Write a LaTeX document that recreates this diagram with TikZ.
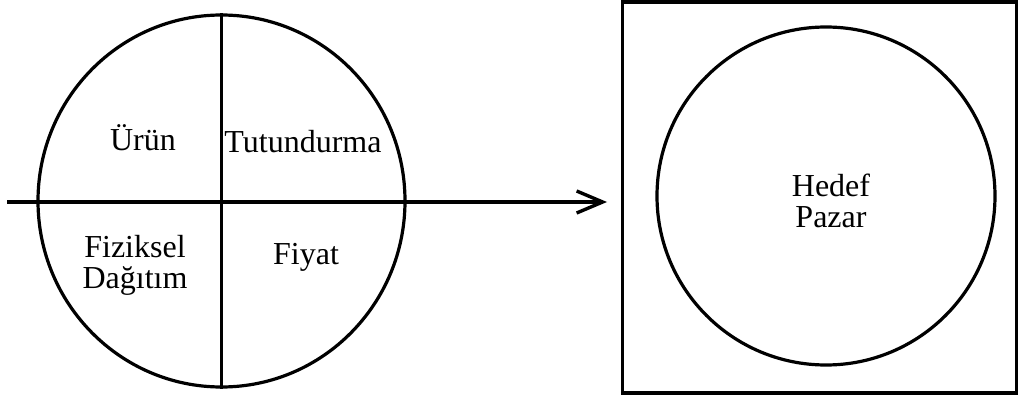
\documentclass[tikz,border=0pt]{standalone}
\usepackage{fontspec}
\setmainfont{Liberation Serif}
\usetikzlibrary{shapes.geometric,arrows.meta}
\begin{document}
\begin{tikzpicture}[x=1pt,y=-1pt,
  ln/.style={line width=3.2pt},
  lbl/.style={anchor=base,inner sep=0pt,font=\fontsize{32}{31}\selectfont},
  lbl2/.style={align=center,inner sep=0pt,font=\fontsize{32}{31}\selectfont}]
\useasboundingbox (0,0) rectangle (1018,398);
% left mix circle
\node[ellipse,draw,ln,minimum width=367pt,minimum height=372pt,inner sep=0pt] (mix) at (221.5,201) {};
\draw[ln] (mix.north) -- (mix.south);
\coordinate (start) at (7,202);
\coordinate (tip) at (607,202);
\draw[ln,-{Straight Barb[length=26pt,width=22pt,line width=3.4pt]}] (start) -- (tip);
% labels
\node[lbl] (urun) at (143,151) {Ürün};
\node[lbl] (tut) at (303,153) {Tutundurma};
\node[lbl2,anchor=base] (fiz) at (135,288) {Fiziksel\\Dağıtım};
\node[lbl] (fiyat) at (306,265) {Fiyat};
% right box
\node[draw,ln,minimum width=394pt,minimum height=391pt,inner sep=0pt] (box) at (819.5,197.5) {};
\node[circle,draw,ln,minimum size=338pt,inner sep=0pt] (hedef) at (826,196) {};
\node[lbl2,anchor=base] (hp) at (831,228) {Hedef\\Pazar};
\end{tikzpicture}
\end{document}
